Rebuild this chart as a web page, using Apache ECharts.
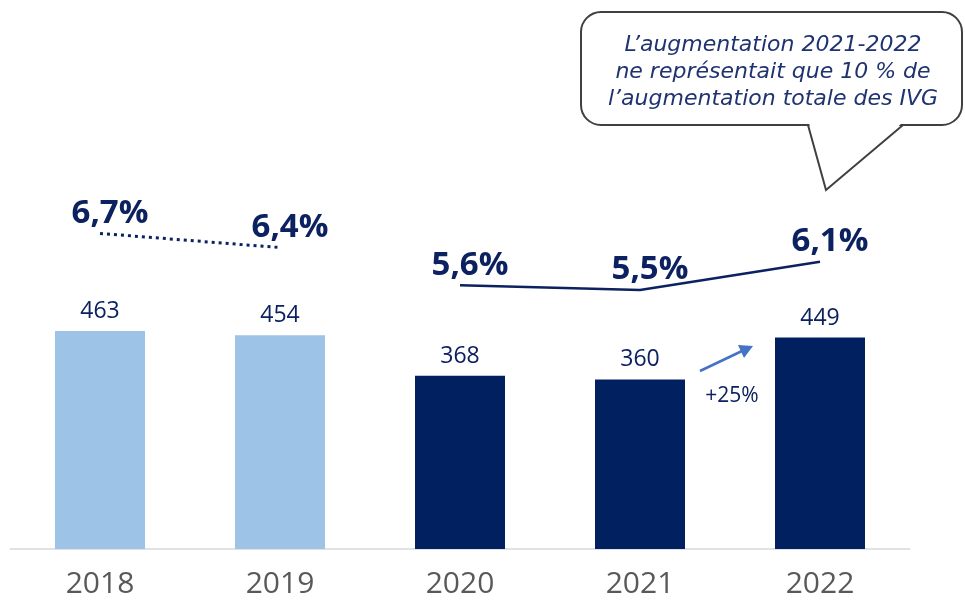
<!DOCTYPE html>
<html>
<head>
<meta charset="utf-8">
<style>
  html, body { margin: 0; padding: 0; background: #fff; }
  #chart { width: 965px; height: 605px; }
</style>
<script src="https://cdn.jsdelivr.net/npm/echarts@6/dist/echarts.min.js"></script>
</head>
<body>
<div id="chart"></div>
<script>
  // IVG : nombre (milliers) et taux
  const years = ["2018", "2019", "2020", "2021", "2022"]
  const counts = [463, 454, 368, 360, 449]
  const rates = [6.7, 6.4, 5.6, 5.5, 6.1]
  const lightCount = 2 // 2018-2019 en bleu clair
  const growthLabel = "+25%"
  const noteLines = [
    "L’augmentation 2021-2022",
    "ne représentait que 10 % de",
    "l’augmentation totale des IVG"
  ]

  const navy = "#0c2160"
  const font = "'Open Sans', 'Noto Sans', sans-serif"
  const wideFont = "'DejaVu Sans', sans-serif"

  const rateFmt = p => p.value == null ? "" : p.value.toFixed(1).replace(".", ",") + "%"

  const rateLabel = {
    show: true,
    position: "top",
    distance: 5,
    offset: [10, 2],
    fontFamily: font,
    fontSize: 33,
    fontWeight: "bold",
    color: navy,
    formatter: rateFmt
  }

  const chart = echarts.init(document.getElementById("chart"))

  chart.setOption({
    animation: false,
    grid: { left: 10, right: 55, top: 78, bottom: 56 },
    xAxis: {
      type: "category",
      data: years,
      axisLine: { lineStyle: { color: "#d9d9d9", width: 1.5 } },
      axisTick: { show: false },
      axisLabel: {
        fontFamily: font,
        fontSize: 30,
        color: "#595959",
        margin: 20
      }
    },
    yAxis: [
      { type: "value", min: 0, max: 1000, show: false },
      { type: "value", min: 0, max: 10, show: false }
    ],
    series: [
      {
        type: "bar",
        data: counts.map((v, i) => ({
          value: v,
          itemStyle: { color: i < lightCount ? "#9dc3e6" : "#002060" }
        })),
        barWidth: "50%",
        label: {
          show: true,
          position: "top",
          distance: 8,
          fontFamily: font,
          fontSize: 23,
          color: navy
        }
      },
      {
        type: "line",
        yAxisIndex: 1,
        data: rates.map((v, i) => i < lightCount ? v : null),
        symbol: "circle",
        symbolSize: 1,
        itemStyle: { color: "rgba(0,0,0,0)" },
        lineStyle: { color: navy, width: 3, type: [3, 4] },
        label: rateLabel
      },
      {
        type: "line",
        yAxisIndex: 1,
        data: rates.map((v, i) => i >= lightCount ? v : null),
        symbol: "circle",
        symbolSize: 1,
        itemStyle: { color: "rgba(0,0,0,0)" },
        lineStyle: { color: navy, width: 2.5 },
        label: rateLabel
      }
    ],
    graphic: [
      {
        type: "rect",
        shape: { x: 581, y: 12, width: 381, height: 113, r: 20 },
        style: { fill: "#fff", stroke: "#404040", lineWidth: 2 }
      },
      {
        type: "polygon",
        shape: { points: [[809, 123], [826, 190], [902, 123]] },
        style: { fill: "#fff" }
      },
      {
        type: "polyline",
        shape: { points: [[808, 125], [826, 190], [903, 125]] },
        style: { fill: null, stroke: "#404040", lineWidth: 2 }
      },
      {
        type: "text",
        x: 773,
        y: 72,
        style: {
          text: noteLines.join("\n"),
          align: "center",
          verticalAlign: "middle",
          fontFamily: wideFont,
          fontStyle: "italic",
          fontSize: 22,
          lineHeight: 27,
          fill: "#1f3370"
        }
      },
      {
        type: "line",
        shape: { x1: 700, y1: 371, x2: 742, y2: 351 },
        style: { stroke: "#4472c4", lineWidth: 2.5 }
      },
      {
        type: "polygon",
        shape: { points: [[753, 346], [738, 345], [744, 358]] },
        style: { fill: "#4472c4" }
      },
      {
        type: "text",
        x: 732,
        y: 396,
        style: {
          text: growthLabel,
          align: "center",
          verticalAlign: "middle",
          fontFamily: font,
          fontSize: 21,
          fill: navy
        }
      }
    ]
  })

  window.addEventListener("resize", () => chart.resize())
</script>
</body>
</html>
